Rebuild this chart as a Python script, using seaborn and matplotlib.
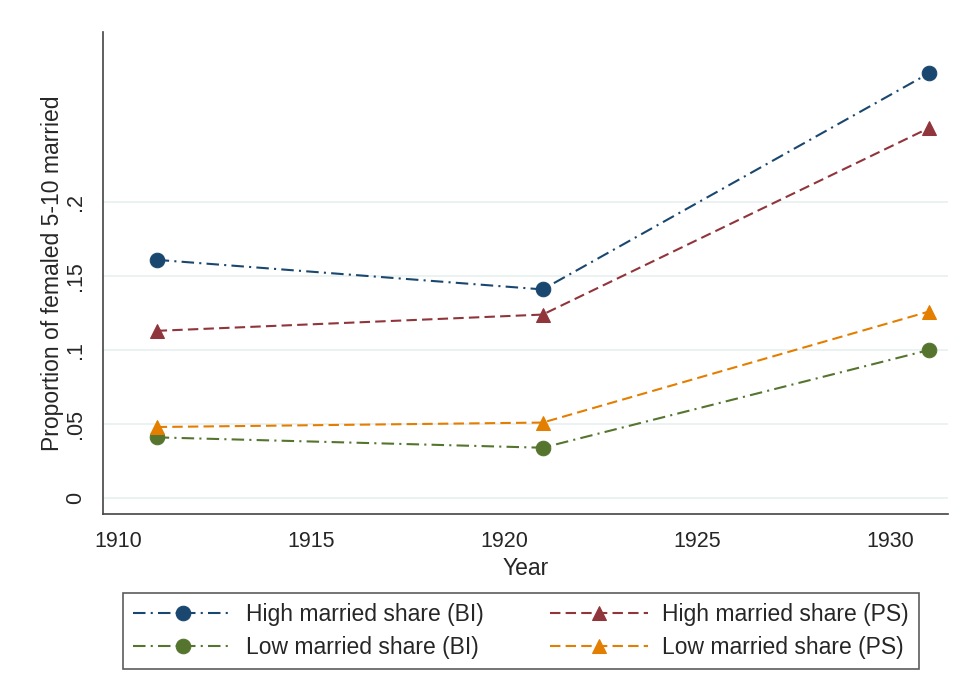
import pandas as pd
import matplotlib
matplotlib.use("Agg")
import matplotlib.pyplot as plt
import seaborn as sns

# Data
years = [1911, 1921, 1931]
high_bi = [0.161, 0.141, 0.287]
high_ps = [0.113, 0.124, 0.250]
low_bi = [0.041, 0.034, 0.100]
low_ps = [0.048, 0.051, 0.126]
labels = ["High married share (BI)", "High married share (PS)",
          "Low married share (BI)", "Low married share (PS)"]
y_ticks = [0, 0.05, 0.1, 0.15, 0.2]
y_ticklabels = ["0", ".05", ".1", ".15", ".2"]
x_ticks = [1910, 1915, 1920, 1925, 1930]

sns.set_style("white")
plt.rcParams["font.family"] = ["Liberation Sans", "DejaVu Sans"]

colors = ["#1a476f", "#90353b", "#55752f", "#e37e00"]
markers = ["o", "^", "o", "^"]
dashes = [(6, 2.5, 1, 2.5), (5, 2.5), (6, 2.5, 1, 2.5), (5, 2.5)]
series = [high_bi, high_ps, low_bi, low_ps]

fig = plt.figure(figsize=(9.57, 6.99), dpi=100)
ax = fig.add_axes([103 / 957, 1 - 514 / 699, 845 / 957, 482 / 699])

for vals, lab, c, m, d in zip(series, labels, colors, markers, dashes):
    df = pd.DataFrame({"Year": years, "val": vals})
    sns.lineplot(data=df, x="Year", y="val", ax=ax, color=c, marker=m,
                 markersize=10.5, markeredgecolor=c, linewidth=1.5,
                 dashes=False, label=lab)
    ax.lines[-1].set_dashes(d)

ax.set_xlim(1909.61, 1931.5)
ax.set_ylim(-0.0108, 0.315)
ax.set_yticks(y_ticks)
ax.set_yticklabels(y_ticklabels, rotation=90, va="center")
ax.set_xticks(x_ticks)
ax.tick_params(axis="both", direction="out", length=6, width=1,
               color="#444444", labelsize=15.5, pad=6)
ax.grid(axis="y", color="#e8f0f0", linewidth=1.2)
ax.set_axisbelow(True)
for s in ["top", "right"]:
    ax.spines[s].set_visible(False)
for s in ["left", "bottom"]:
    ax.spines[s].set_color("#444444")
    ax.spines[s].set_linewidth(1.2)

ax.set_xlabel("Year", fontsize=16.5, labelpad=4)
ax.set_ylabel("Proportion of femaled 5-10 married", fontsize=16.5, labelpad=1)

handles, labs = ax.get_legend_handles_labels()
ax.get_legend().remove()
# column-first fill: put high series in row one
order = [0, 2, 1, 3]
leg = fig.legend([handles[i] for i in order], [labs[i] for i in order],
                 ncol=2, loc="center",
                 bbox_to_anchor=(521 / 957, 1 - 631 / 699),
                 fontsize=16.5, frameon=True, fancybox=False,
                 handlelength=4.3, handletextpad=0.6, columnspacing=2.9,
                 borderpad=0.45, labelspacing=0.45)
leg.get_frame().set_edgecolor("#333333")
leg.get_frame().set_linewidth(1.2)

fig.savefig("out.png", dpi=100)
